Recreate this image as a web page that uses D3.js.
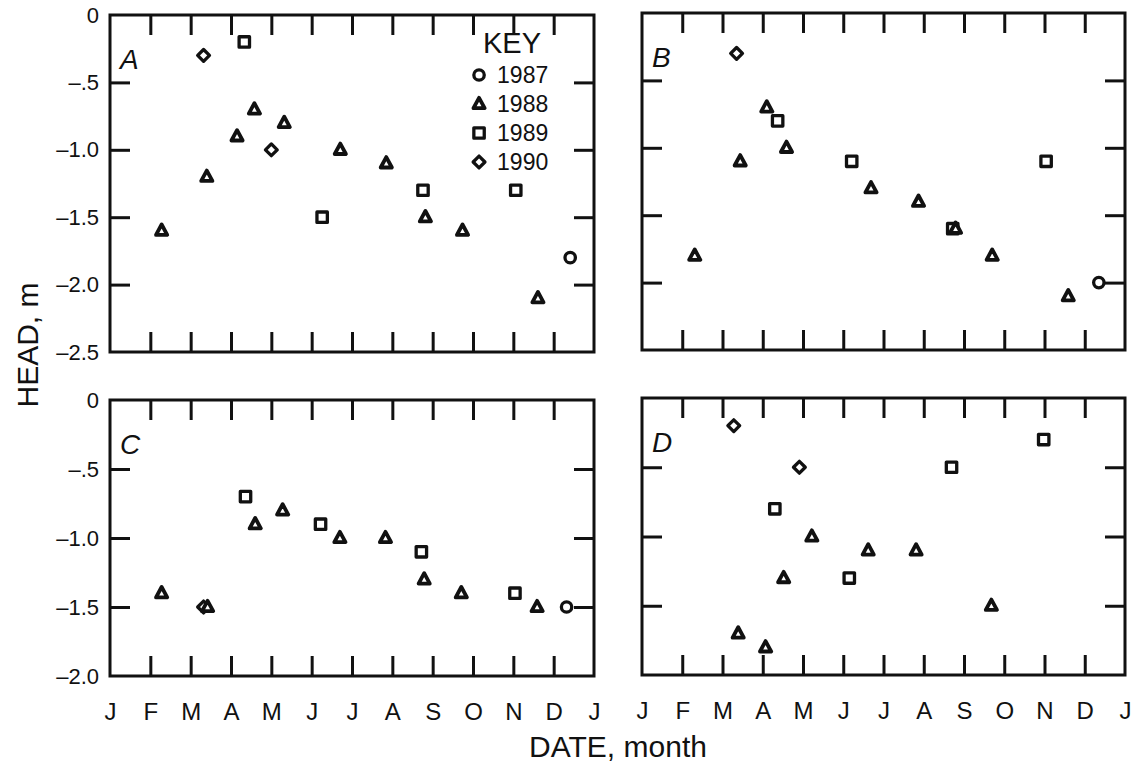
<!DOCTYPE html>
<html>
<head>
<meta charset="utf-8">
<script src="https://cdn.jsdelivr.net/npm/d3@7"></script>
<style>
  body { margin: 0; background: #fff; }
  text { font-family: "Liberation Sans", Arial, Helvetica, sans-serif; fill: #111; }
</style>
</head>
<body>
<script>
// month labels along x (0 = start of January, 12 = end of December)
var monthLabels = ['J', 'F', 'M', 'A', 'M', 'J', 'J', 'A', 'S', 'O', 'N', 'D', 'J'];
var years = ['1987', '1988', '1989', '1990'];
var headTicksTop = [0, -0.5, -1.0, -1.5, -2.0, -2.5];
var headTicksBottom = [0, -0.5, -1.0, -1.5, -2.0];

// [year, month position, head in m]
var wellA = [
    ['1988', 1.28, -1.6], ['1990', 2.32, -0.3], ['1988', 2.40, -1.2], ['1989', 3.33, -0.2],
    ['1988', 3.15, -0.9], ['1988', 3.58, -0.7], ['1988', 4.32, -0.8], ['1990', 4.00, -1.0],
    ['1989', 5.26, -1.5], ['1988', 5.71, -1.0], ['1988', 6.85, -1.1], ['1989', 7.76, -1.3],
    ['1988', 7.82, -1.5], ['1988', 8.74, -1.6], ['1989', 10.06, -1.3], ['1988', 10.61, -2.1],
    ['1987', 11.41, -1.8]
];
var wellB = [
    ['1990', 2.35, -0.3], ['1988', 1.31, -1.8], ['1988', 2.44, -1.1], ['1988', 3.10, -0.7],
    ['1989', 3.37, -0.8], ['1988', 3.59, -1.0], ['1989', 5.21, -1.1], ['1988', 5.69, -1.3],
    ['1988', 6.87, -1.4], ['1989', 7.72, -1.6], ['1988', 7.79, -1.6], ['1988', 8.70, -1.8],
    ['1989', 10.04, -1.1], ['1988', 10.59, -2.1], ['1987', 11.35, -2.0]
];
var wellC = [
    ['1988', 1.28, -1.4], ['1990', 2.32, -1.5], ['1988', 2.42, -1.5], ['1989', 3.36, -0.7],
    ['1988', 3.60, -0.9], ['1988', 4.28, -0.8], ['1989', 5.22, -0.9], ['1988', 5.70, -1.0],
    ['1988', 6.83, -1.0], ['1989', 7.72, -1.1], ['1988', 7.79, -1.3], ['1988', 8.71, -1.4],
    ['1989', 10.04, -1.4], ['1988', 10.59, -1.5], ['1987', 11.32, -1.5]
];
var wellD = [
    ['1990', 2.28, -0.2], ['1989', 9.98, -0.3], ['1990', 3.91, -0.5], ['1989', 7.69, -0.5],
    ['1989', 3.30, -0.8], ['1988', 4.22, -1.0], ['1988', 5.62, -1.1], ['1988', 6.81, -1.1],
    ['1988', 3.52, -1.3], ['1989', 5.15, -1.3], ['1988', 8.68, -1.5], ['1988', 2.39, -1.7],
    ['1988', 3.07, -1.8]
];

var width = 1139,
    height = 764;

var panels = [
    { name: 'A', data: wellA, x0: 110, x1: 594, y0: 15, y1: 352, ticks: headTicksTop, yLabels: true, xLabels: false, key: true },
    { name: 'B', data: wellB, x0: 642, x1: 1125, y0: 13, y1: 350, ticks: headTicksTop, yLabels: false, xLabels: false },
    { name: 'C', data: wellC, x0: 110, x1: 594, y0: 400, y1: 676, ticks: headTicksBottom, yLabels: true, xLabels: true },
    { name: 'D', data: wellD, x0: 642, x1: 1125, y0: 398, y1: 675, ticks: headTicksBottom, yLabels: false, xLabels: true }
];

var svg = d3.select('body')
    .append('svg')
    .attr('width', width)
    .attr('height', height)

function symbolPath(year) {
    if (year == '1987') return d3.symbol(d3.symbolCircle, 85)();
    if (year == '1988') return 'M0,-6.2L5.6,4.2L-5.6,4.2Z';
    if (year == '1989') return 'M-5.2,-5.2L5.2,-5.2L5.2,5.2L-5.2,5.2Z';
    return 'M0,-5.9L5.9,0L0,5.9L-5.9,0Z';
}

function headFormat(v) {
    if (v == 0) return '0';
    if (v == -0.5) return '\u2013.5';
    return '\u2013' + Math.abs(v).toFixed(1);
}

function drawMarks(sel) {
    sel.attr('d', d => symbolPath(d[0]))
        .attr('fill', '#fff')
        .attr('stroke', '#111')
        .attr('stroke-width', d => d[0] == '1988' ? 3.8 : 3.3)
        .attr('stroke-linejoin', 'round')
}

panels.forEach(function(p) {
    var x = d3.scaleLinear().domain([0, 12]).range([p.x0, p.x1]);
    var y = d3.scaleLinear().domain([0, p.ticks[p.ticks.length - 1]]).range([p.y0, p.y1]);
    var g = svg.append('g');
    var inner = p.ticks.slice(1, -1);
    var monthTicks = d3.range(1, 12);

    // inward ticks on all four sides
    var axes = [
        [d3.axisBottom(x).tickValues(monthTicks), `translate(0,${p.y1})`],
        [d3.axisTop(x).tickValues(monthTicks), `translate(0,${p.y0})`],
        [d3.axisLeft(y).tickValues(inner), `translate(${p.x0},0)`],
        [d3.axisRight(y).tickValues(inner), `translate(${p.x1},0)`]
    ];
    axes.forEach(function(a) {
        var ax = g.append('g')
            .attr('transform', a[1])
            .call(a[0].tickSize(-20).tickFormat(''));
        ax.select('.domain').remove();
        ax.selectAll('line').attr('stroke', '#111').attr('stroke-width', 3);
    });

    g.append('rect')
        .attr('x', p.x0).attr('y', p.y0)
        .attr('width', p.x1 - p.x0).attr('height', p.y1 - p.y0)
        .attr('fill', 'none').attr('stroke', '#111').attr('stroke-width', 3)

    if (p.yLabels) {
        var yl = g.append('g')
            .attr('transform', `translate(${p.x0},0)`)
            .call(d3.axisLeft(y).tickValues(p.ticks).tickSize(0).tickPadding(11).tickFormat(headFormat));
        yl.select('.domain').remove();
        yl.selectAll('text').attr('font-size', 22).attr('font-family', null);
    }
    if (p.xLabels) {
        var xl = g.append('g')
            .attr('transform', `translate(0,${p.y1})`)
            .call(d3.axisBottom(x).tickValues(d3.range(0, 13)).tickSize(0).tickPadding(27).tickFormat(i => monthLabels[i]));
        xl.select('.domain').remove();
        xl.selectAll('text').attr('font-size', 24).attr('font-family', null);
    }

    g.append('text')
        .attr('x', p.x0 + 10).attr('y', p.y0 + 54)
        .attr('font-size', 28).attr('font-style', 'italic')
        .text(p.name)

    g.selectAll('path.mark')
        .data(p.data)
        .enter().append('path')
        .attr('class', 'mark')
        .attr('transform', d => `translate(${x(d[1])},${y(d[2])})`)
        .call(drawMarks)

    if (p.key) {
        var kx = x(9.15);
        g.append('text')
            .attr('x', kx + 33).attr('y', 53)
            .attr('text-anchor', 'middle').attr('font-size', 29)
            .text('KEY')
        var rows = g.selectAll('g.key')
            .data(years)
            .enter().append('g')
            .attr('class', 'key')
            .attr('transform', (d, i) => `translate(${kx},${75 + i * 29})`);
        rows.append('path')
            .datum(d => [d])
            .call(drawMarks)
        rows.append('text')
            .attr('x', 18).attr('dy', '0.36em')
            .attr('font-size', 23)
            .text(d => d)
    }
});

svg.append('text')
    .attr('transform', 'translate(38,345) rotate(-90)')
    .attr('text-anchor', 'middle')
    .attr('font-size', 30)
    .text('HEAD, m')

svg.append('text')
    .attr('x', 618).attr('y', 757)
    .attr('text-anchor', 'middle')
    .attr('font-size', 30)
    .text('DATE, month')
</script>
</body>
</html>
